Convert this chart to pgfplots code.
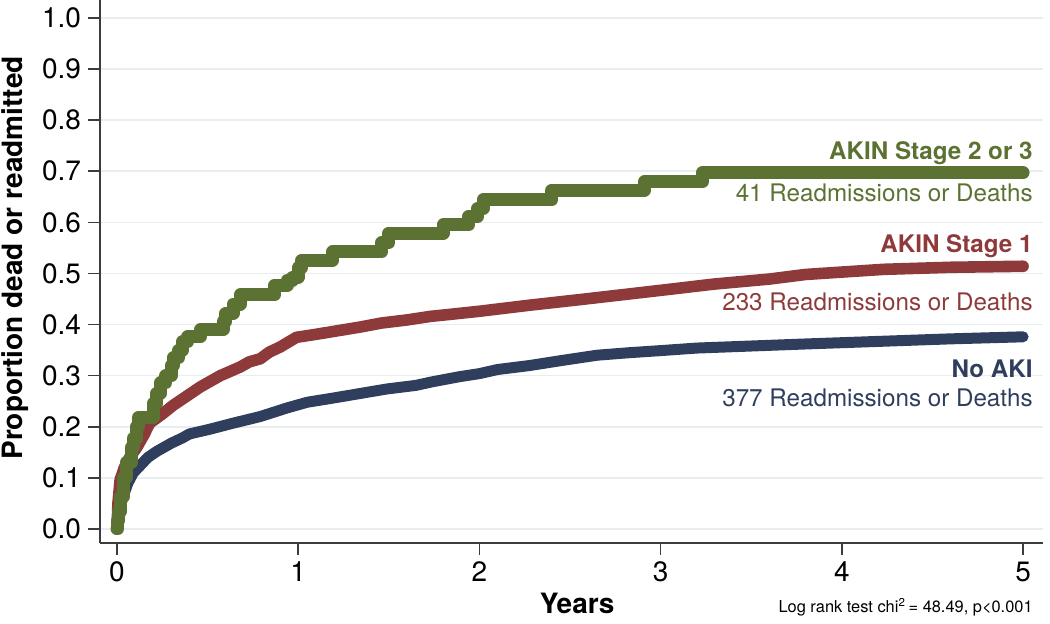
\documentclass[border=0pt]{standalone}
\usepackage{fontspec}
\setmainfont{TeX Gyre Heros}
\usepackage{pgfplots}
\pgfplotsset{compat=1.18}
\definecolor{cgreen}{RGB}{91,114,50}
\definecolor{cred}{RGB}{142,58,59}
\definecolor{cblue}{RGB}{47,62,92}
\definecolor{axgray}{RGB}{60,60,60}
\definecolor{gridc}{RGB}{232,238,240}

\begin{document}
\begin{tikzpicture}
\path[use as bounding box] (-50pt,-40.5pt) rectangle (475pt,271.5pt);
\begin{axis}[
  scale only axis, width=471.5pt, height=271.5pt,
  at={(0,0)}, anchor=south west,
  xmin=-0.094, xmax=5.11, ymin=-0.0274, ymax=1.035,
  axis lines*=left,
  axis line style={axgray, line width=0.8pt, -},
  xtick={0,1,2,3,4,5},
  ytick={0,0.1,0.2,0.3,0.4,0.5,0.6,0.7,0.8,0.9,1},
  yticklabel style={/pgf/number format/.cd, fixed, fixed zerofill, precision=1},
  /pgf/number format/assume math mode=true,
  tick align=outside, major tick length=6pt,
  tick style={axgray, line width=0.8pt},
  ymajorgrids, grid style={gridc, line width=0.8pt},
  tick label style={font=\fontsize{14}{16}\selectfont},
  xlabel={Years}, ylabel={Proportion dead or readmitted},
  xlabel style={font=\bfseries\fontsize{14}{16}\selectfont, at={(axis description cs:0.506,0)}, yshift=-30pt, anchor=center},
  ylabel style={font=\bfseries\fontsize{14}{16}\selectfont, at={(axis description cs:-0.0901,0.525)}, anchor=center},
  clip=false,
]
% No AKI
\addplot[cblue, line width=5.5pt, line cap=round, line join=round] coordinates {
(0,0) (0.01,0.03) (0.03,0.06) (0.06,0.09) (0.09,0.11) (0.13,0.125) (0.17,0.14)
(0.22,0.152) (0.30,0.168) (0.36,0.178) (0.40,0.186) (0.51,0.195) (0.64,0.207)
(0.79,0.22) (0.94,0.237) (1.05,0.248) (1.19,0.256) (1.34,0.265) (1.49,0.274)
(1.65,0.281) (1.74,0.288) (1.89,0.298) (2.0,0.304) (2.1,0.312) (2.28,0.32)
(2.46,0.33) (2.65,0.34) (2.83,0.345) (3.0,0.349) (3.2,0.354) (3.5,0.358)
(3.8,0.362) (4.2,0.367) (4.6,0.372) (5.0,0.376)
};
% AKIN Stage 1
\addplot[cred, line width=5.8pt, line cap=round, line join=round] coordinates {
(0,0) (0.005,0.05) (0.017,0.096) (0.04,0.12) (0.07,0.14) (0.11,0.16) (0.15,0.185)
(0.18,0.207) (0.25,0.225) (0.31,0.242) (0.36,0.254) (0.46,0.278) (0.57,0.30)
(0.68,0.317) (0.73,0.327) (0.79,0.333) (0.84,0.346) (0.90,0.356) (0.99,0.375)
(1.10,0.381) (1.22,0.388) (1.34,0.395) (1.46,0.403) (1.60,0.409) (1.73,0.416)
(1.84,0.42) (2.0,0.426) (2.28,0.438) (2.56,0.449) (2.83,0.46) (3.05,0.469)
(3.29,0.479) (3.6,0.489) (3.8,0.498) (4.23,0.508) (4.6,0.512) (5.0,0.514)
};
% AKIN Stage 2 or 3
\addplot[cgreen, line width=6.5pt, line cap=round, line join=round, const plot mark left] coordinates {
(0,0) (0.005,0.017) (0.01,0.035) (0.02,0.063) (0.035,0.1) (0.05,0.13) (0.08,0.16)
(0.09,0.178) (0.11,0.2) (0.12,0.219) (0.20,0.246) (0.22,0.266) (0.24,0.286)
(0.27,0.30) (0.30,0.32) (0.31,0.335) (0.34,0.35) (0.36,0.366) (0.39,0.376)
(0.46,0.39) (0.585,0.406) (0.60,0.422) (0.64,0.44) (0.68,0.458) (0.87,0.477)
(0.94,0.487) (0.97,0.493) (1.0,0.511) (1.02,0.526) (1.19,0.542) (1.46,0.56)
(1.50,0.579) (1.80,0.595) (1.94,0.611) (1.99,0.627) (2.02,0.644) (2.40,0.663)
(2.91,0.679) (3.23,0.697) (5.0,0.697)
};
\node[anchor=east, inner sep=0pt, text=cgreen, font=\bfseries\fontsize{12.1}{14}\selectfont] at (axis cs:5.055,0.736) {AKIN Stage 2 or 3};
\node[anchor=east, inner sep=0pt, text=cgreen, font=\fontsize{12.1}{14}\selectfont] at (axis cs:5.055,0.658) {41 Readmissions or Deaths};
\node[anchor=east, inner sep=0pt, text=cred, font=\bfseries\fontsize{12.1}{14}\selectfont] at (axis cs:5.055,0.554) {AKIN Stage 1};
\node[anchor=east, inner sep=0pt, text=cred, font=\fontsize{12.1}{14}\selectfont] at (axis cs:5.055,0.444) {233 Readmissions or Deaths};
\node[anchor=east, inner sep=0pt, text=cblue, font=\bfseries\fontsize{12.1}{14}\selectfont] at (axis cs:5.055,0.313) {No AKI};
\node[anchor=east, inner sep=0pt, text=cblue, font=\fontsize{12.1}{14}\selectfont] at (axis cs:5.055,0.256) {377 Readmissions or Deaths};
\node[anchor=east, inner sep=0pt, font=\fontsize{8.2}{10}\selectfont] at (axis cs:5.055,-0.153) {Log rank test chi\textsuperscript{2}\,= 48.49, p<0.001};
\end{axis}
\end{tikzpicture}
\end{document}
